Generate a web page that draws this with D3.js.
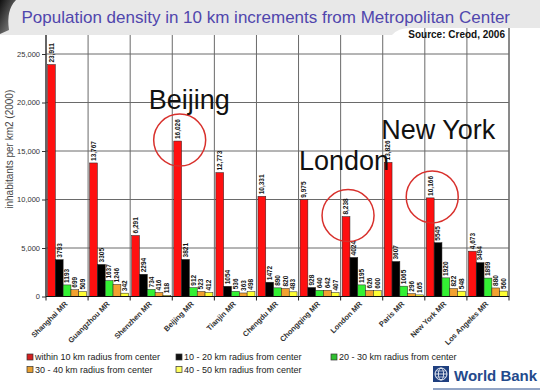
<!DOCTYPE html>
<html>
<head>
<meta charset="utf-8">
<script src="https://cdn.jsdelivr.net/npm/d3@7/dist/d3.min.js"></script>
<style>
  body { margin: 0; background: #fff; }
  svg { display: block; font-family: "Liberation Sans", Arial, sans-serif; }
</style>
</head>
<body>
<svg id="chart" width="540" height="391"></svg>
<script>
const cities = ["Shanghai MR","Guangzhou MR","Shenzhen MR","Beijing MR","Tianjin MR","Chengdu MR","Chongqing MR","London MR","Paris MR","New York MR","Los Angeles MR"];
const seriesNames = ["within 10 km radius from center","10 - 20 km radius from center","20 - 30 km radius from center","30 - 40 km radius from center","40 - 50 km radius from center"];
const within10 = [23911,13767,6291,16026,12773,10331,9975,8238,13826,10166,4673];
const km10_20  = [3793,3305,2294,3821,1054,1472,928,4024,3607,5545,3494];
const km20_30  = [1193,1637,734,912,536,890,640,1195,1065,1920,1899];
const km30_40  = [699,1246,416,523,363,820,642,626,296,822,880];
const km40_50  = [509,342,118,412,498,483,407,600,165,548,560];
const yTicks = [0,5000,10000,15000,20000,25000];
const highlighted = ["Beijing MR","London MR","New York MR"];
const highlightLabels = ["Beijing","London","New York"];

const seriesValues = [within10, km10_20, km20_30, km30_40, km40_50];
const barColors = ["#ff1010","#000000","#33f033","#f2a030","#ffff33"];
const legendColors = ["#d42020","#111111","#30c030","#e8a030","#ffff60"];

const svg = d3.select("#chart");
svg.append("rect").attr("width",540).attr("height",391).attr("fill","#fff");

const left = 46, right = 509, bottom = 296.5;
const x = d3.scaleBand().domain(cities).range([left, right]).padding(0);
const x1 = d3.scaleBand().domain(d3.range(5)).range([1.5, x.bandwidth()-1.5]).padding(0);
const y = d3.scaleLinear().domain([0, 30000]).range([bottom, bottom - 30000*0.0097]);

const plot = svg.append("g");
plot.append("rect").attr("x", left).attr("y", y(30000)).attr("width", right-left).attr("height", bottom - y(30000)).attr("fill","#fff").attr("stroke","#555");

plot.selectAll("line.hg").data(yTicks.concat([30000])).enter().append("line")
  .attr("x1", left).attr("x2", right).attr("y1", d=>y(d)).attr("y2", d=>y(d))
  .attr("stroke","#6a6a6a").attr("stroke-width",1);
plot.selectAll("line.vg").data(cities.slice(1)).enter().append("line")
  .attr("x1", d=>x(d)).attr("x2", d=>x(d)).attr("y1", y(30000)).attr("y2", bottom)
  .attr("stroke","#6a6a6a").attr("stroke-width",1);
plot.append("line").attr("x1", right).attr("x2", right).attr("y1", y(30000)).attr("y2", bottom).attr("stroke","#6a6a6a");

const rows = [];
cities.forEach((c,i)=>seriesValues.forEach((arr,s)=>rows.push({city:c, s, v:arr[i]})));
plot.selectAll("rect.bar").data(rows).enter().append("rect")
  .attr("x", d=>x(d.city)+x1(d.s)).attr("width", x1.bandwidth())
  .attr("y", d=>y(d.v)).attr("height", d=>bottom - y(d.v))
  .attr("fill", d=>barColors[d.s]).attr("stroke","#222").attr("stroke-width",0.5);

const fmtComma = d3.format(",");
plot.selectAll("text.val").data(rows).enter().append("text")
  .attr("transform", d=>`translate(${x(d.city)+x1(d.s)+x1.bandwidth()/2+2.3},${y(d.v)-2}) rotate(-90)`)
  .attr("font-size", 6.5).attr("font-weight","bold").attr("fill","#111")
  .text(d=> d.s===0 ? fmtComma(d.v) : String(d.v));

const yAxis = d3.axisLeft(y).tickValues(yTicks).tickSize(4).tickFormat(d3.format(","));
const ya = svg.append("g").attr("transform",`translate(${left},0)`).call(yAxis);
ya.select(".domain").attr("stroke","#222").attr("d", `M0,${y(30000)}V${bottom}`);
ya.selectAll(".tick line").attr("stroke","#333");
ya.selectAll(".tick text").attr("font-size",7.5).attr("fill","#333").attr("font-family","Liberation Sans, Arial, sans-serif").attr("x",-6);

svg.append("line").attr("x1",left).attr("x2",right).attr("y1",bottom).attr("y2",bottom).attr("stroke","#111").attr("stroke-width",1.2);
svg.selectAll("line.xt").data(cities.concat(["__end"])).enter().append("line")
  .attr("x1", d=> d==="__end" ? right : x(d)).attr("x2", d=> d==="__end" ? right : x(d))
  .attr("y1", bottom).attr("y2", bottom+4).attr("stroke","#222");
svg.selectAll("text.xl").data(cities).enter().append("text")
  .attr("transform", d=>`translate(${x(d)+x.bandwidth()/2+1},${bottom+8}) rotate(-45)`)
  .attr("text-anchor","end").attr("font-size",7.5).attr("font-weight","bold").attr("fill","#333")
  .text(d=>d);

svg.append("text").attr("transform",`translate(13,${(y(25000)+bottom)/2 - 26}) rotate(-90)`)
  .attr("text-anchor","middle").attr("font-size",10).attr("fill","#444")
  .text("inhabitants per km2 (2000)");

const textOffsets = [[-31,-31],[-49,-46],[-51,-58]];
highlighted.forEach((c,i)=>{
  const idx = cities.indexOf(c);
  const cx = x(c)+x1(0)+x1.bandwidth()/2+2, cy = y(within10[idx])-1;
  svg.append("circle").attr("cx",cx).attr("cy",cy).attr("r",26)
    .attr("fill","none").attr("stroke","#d8302c").attr("stroke-width",1.5);
  svg.append("text").attr("x", cx+textOffsets[i][0]).attr("y", cy+textOffsets[i][1])
    .attr("font-size",27).attr("fill","#111").text(highlightLabels[i]);
});

const legendPos = [[30,357],[179,357],[334,357],[30,369.5],[179,369.5]];
seriesNames.forEach((n,i)=>{
  const g = svg.append("g").attr("transform",`translate(${legendPos[i][0]},${legendPos[i][1]})`);
  g.append("rect").attr("x",-3).attr("y",-3).attr("width",6).attr("height",6)
    .attr("fill",legendColors[i]).attr("stroke","#333").attr("stroke-width",0.7);
  g.append("text").attr("x",5).attr("y",3.2).attr("font-size",9).attr("fill","#222").text(n);
});

const defs = svg.append("defs");
const grad = defs.append("linearGradient").attr("id","sw").attr("x1","0").attr("y1","0").attr("x2","1").attr("y2","1");
grad.append("stop").attr("offset","0").attr("stop-color","#111");
grad.append("stop").attr("offset","1").attr("stop-color","#9a9a9a");
svg.append("path").attr("d","M0,0H540V28H410Q398,28 392,35H0Z").attr("fill","#e8e8e8");
svg.append("path").attr("d","M0,0H16Q6,10 9,30L0,34Z").attr("fill","url(#sw)");
svg.append("text").attr("x",21.5).attr("y",23).attr("font-size",17).attr("fill","#5046ad")
  .text("Population density in 10 km increments from Metropolitan Center");
svg.append("text").attr("x",505).attr("y",38).attr("text-anchor","end").attr("font-size",10)
  .attr("font-weight","bold").attr("fill","#111").text("Source: Creod, 2006");

const wb = svg.append("g");
wb.append("rect").attr("x",433).attr("y",366).attr("width",16).attr("height",16).attr("fill","#1f3f7f");
wb.append("circle").attr("cx",441).attr("cy",374).attr("r",6).attr("fill","none").attr("stroke","#fff").attr("stroke-width",0.9);
wb.append("ellipse").attr("cx",441).attr("cy",374).attr("rx",2.6).attr("ry",6).attr("fill","none").attr("stroke","#fff").attr("stroke-width",0.8);
wb.append("line").attr("x1",435).attr("x2",447).attr("y1",374).attr("y2",374).attr("stroke","#fff").attr("stroke-width",0.8);
wb.append("line").attr("x1",436).attr("x2",446).attr("y1",371).attr("y2",371).attr("stroke","#fff").attr("stroke-width",0.6);
wb.append("line").attr("x1",436).attr("x2",446).attr("y1",377).attr("y2",377).attr("stroke","#fff").attr("stroke-width",0.6);
wb.append("text").attr("x",454).attr("y",381).attr("font-size",15).attr("font-weight","bold").attr("fill","#244a8c").text("World Bank");
wb.append("line").attr("x1",433).attr("x2",540).attr("y1",389).attr("y2",389).attr("stroke","#244a8c").attr("stroke-width",1);
</script>
</body>
</html>
